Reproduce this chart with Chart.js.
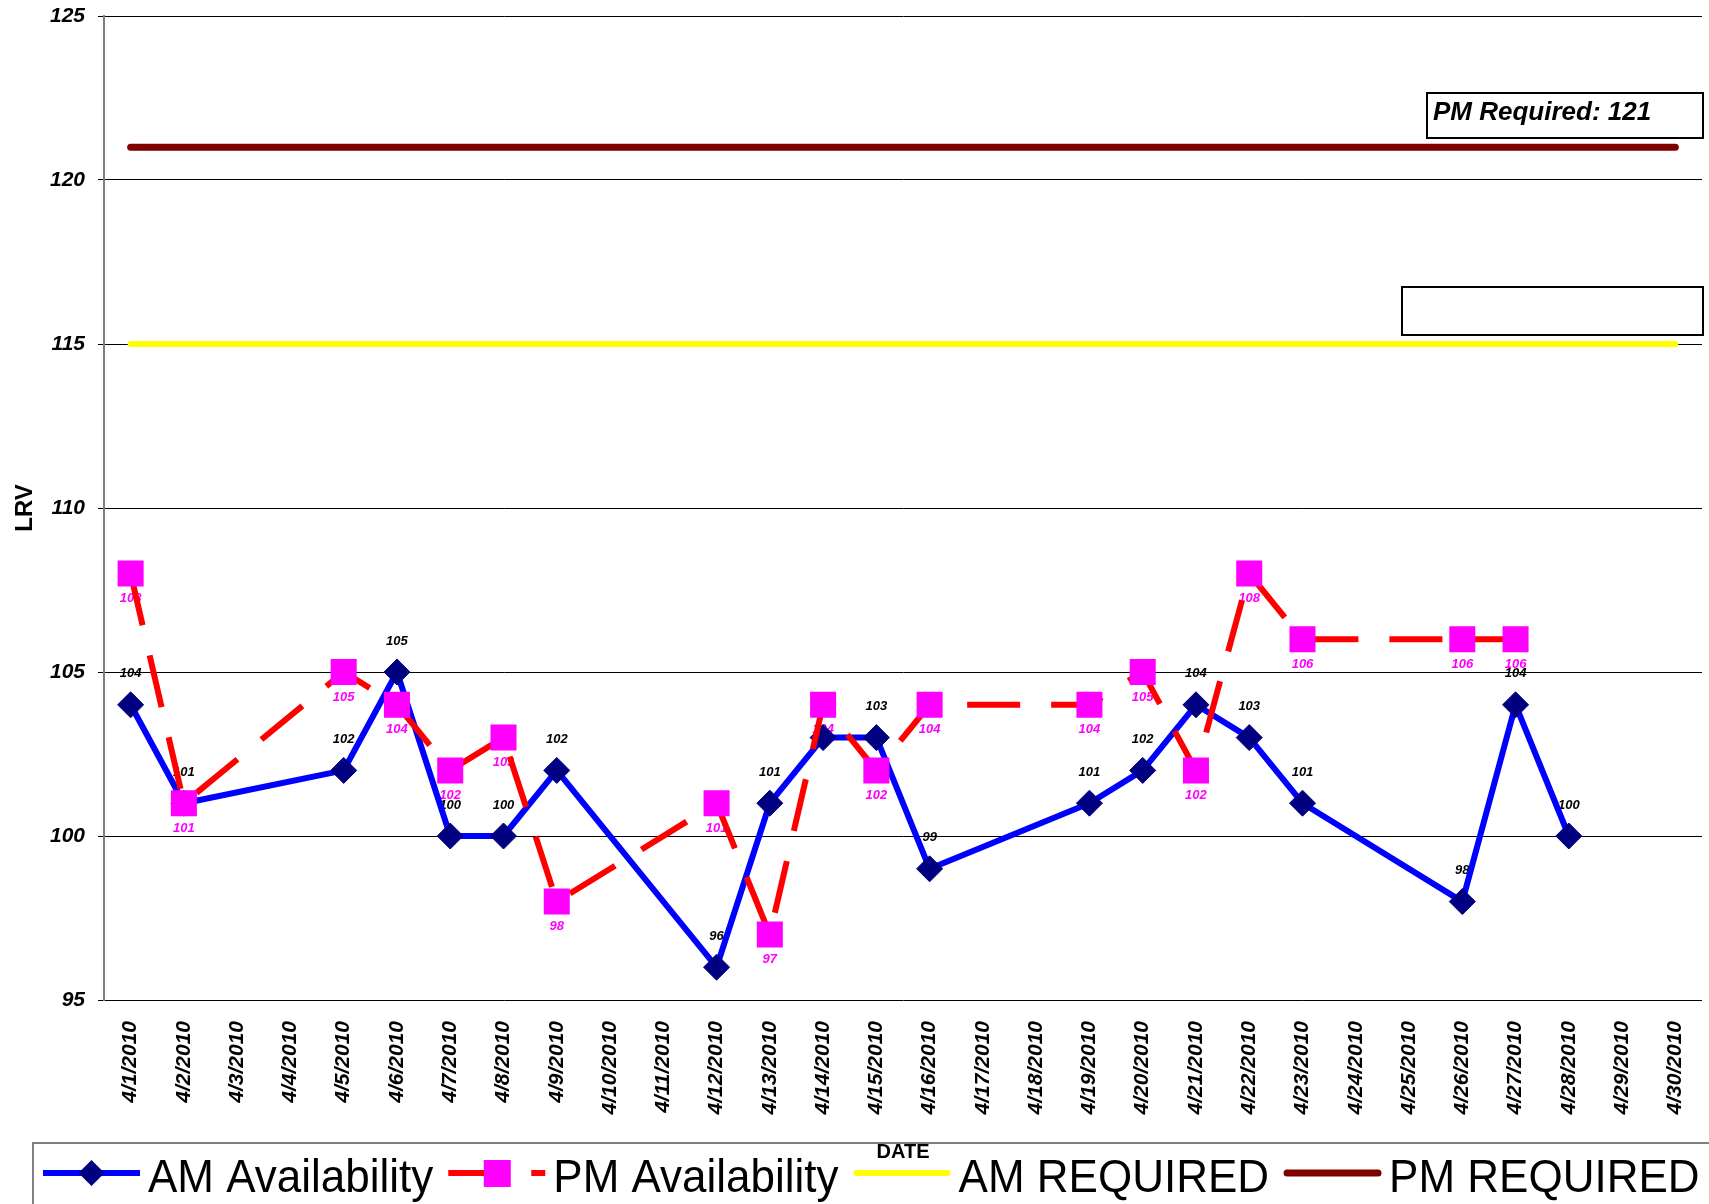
<!DOCTYPE html>
<html lang="en">
<head>
<meta charset="UTF-8">
<title>LRV</title>
<script src="https://cdn.jsdelivr.net/npm/chart.js"></script>
<style>
  html, body { margin: 0; padding: 0; background: #fff; overflow: hidden; }
  canvas { display: block; }
</style>
</head>
<body>
<canvas id="myChart" width="1709" height="1204"></canvas>
<script>
// data
var dates = ['4/1/2010', '4/2/2010', '4/3/2010', '4/4/2010', '4/5/2010', '4/6/2010', '4/7/2010', '4/8/2010',
  '4/9/2010', '4/10/2010', '4/11/2010', '4/12/2010', '4/13/2010', '4/14/2010', '4/15/2010', '4/16/2010',
  '4/17/2010', '4/18/2010', '4/19/2010', '4/20/2010', '4/21/2010', '4/22/2010', '4/23/2010', '4/24/2010',
  '4/25/2010', '4/26/2010', '4/27/2010', '4/28/2010', '4/29/2010', '4/30/2010'];
var amAvail = [104, 101, null, null, 102, 105, 100, 100, 102, null, null, 96, 101, 103, 103, 99,
  null, null, 101, 102, 104, 103, 101, null, null, 98, 104, 100, null, null];
var pmAvail = [108, 101, null, null, 105, 104, 102, 103, 98, null, null, 101, 97, 104, 102, 104,
  null, null, 104, 105, 102, 108, 106, null, null, 106, 106, null, null, null];
var amRequired = [115, 115, 115, 115, 115, 115, 115, 115, 115, 115, 115, 115, 115, 115, 115,
  115, 115, 115, 115, 115, 115, 115, 115, 115, 115, 115, 115, 115, 115, 115];
var pmRequired = [121, 121, 121, 121, 121, 121, 121, 121, 121, 121, 121, 121, 121, 121, 121,
  121, 121, 121, 121, 121, 121, 121, 121, 121, 121, 121, 121, 121, 121, 121];
var yMin = 95, yMax = 125, yStep = 5;
var seriesNames = ['AM Availability', 'PM Availability', 'AM REQUIRED', 'PM REQUIRED'];
var pmNote = 'PM Required: 121';

var FONT = '"Liberation Sans", Arial, sans-serif';

// value labels, drawn under the lines like the original
var pointLabels = {
  id: 'pointLabels',
  beforeDatasetsDraw: function (chart) {
    var ctx = chart.ctx;
    ctx.save();
    ctx.font = 'italic bold 13px ' + FONT;
    ctx.textAlign = 'center';
    ctx.textBaseline = 'middle';
    [[0, -31, '#000000'], [1, 25, '#FF00FF']].forEach(function (cfg) {
      var ds = chart.data.datasets[cfg[0]];
      ctx.fillStyle = cfg[2];
      chart.getDatasetMeta(cfg[0]).data.forEach(function (pt, j) {
        var v = ds.data[j];
        if (v == null) return;
        ctx.fillText(String(v), pt.x, pt.y + cfg[1]);
      });
    });
    ctx.restore();
  }
};

// text boxes + legend box at the bottom
var extras = {
  id: 'extras',
  afterDraw: function (chart) {
    var ctx = chart.ctx;
    var area = chart.chartArea;
    ctx.save();

    // note boxes at the right
    ctx.strokeStyle = '#000';
    ctx.lineWidth = 2;
    ctx.strokeRect(area.right - 275, area.top + 77, 276, 45);
    ctx.strokeRect(area.right - 300, area.top + 271, 301, 48);
    ctx.fillStyle = '#000';
    ctx.font = 'italic bold 26px ' + FONT;
    ctx.textAlign = 'left';
    ctx.textBaseline = 'alphabetic';
    ctx.fillText(pmNote, area.right - 269, area.top + 104);

    // legend
    var top = 1143;
    ctx.strokeStyle = '#808080';
    ctx.lineWidth = 2;
    ctx.strokeRect(33, top, 1709, 100);

    var ly = 1173, x = 43, sw = 97;
    ctx.font = '44px ' + FONT;
    var styles = [
      { color: '#0000FF', dash: [], cap: 'butt', marker: 'diamond' },
      { color: '#FF0000', dash: [40, 43], cap: 'butt', marker: 'square' },
      { color: '#FFFF00', dash: [], cap: 'round', marker: null },
      { color: '#800000', dash: [], cap: 'round', marker: null }
    ];
    for (var i = 0; i < seriesNames.length; i++) {
      var st = styles[i];
      ctx.beginPath();
      ctx.setLineDash(st.dash);
      ctx.lineCap = st.cap;
      ctx.lineWidth = i === 3 ? 7 : 6;
      ctx.strokeStyle = st.color;
      ctx.moveTo(x + (st.cap === 'round' ? 3 : 0), ly);
      ctx.lineTo(x + sw - (st.cap === 'round' ? 3 : 0), ly);
      ctx.stroke();
      ctx.setLineDash([]);
      var cx = x + sw / 2;
      if (st.marker === 'diamond') {
        ctx.fillStyle = '#000080';
        ctx.beginPath();
        ctx.moveTo(cx - 13, ly);
        ctx.lineTo(cx, ly - 13);
        ctx.lineTo(cx + 13, ly);
        ctx.lineTo(cx, ly + 13);
        ctx.closePath();
        ctx.fill();
      } else if (st.marker === 'square') {
        ctx.fillStyle = '#FF00FF';
        ctx.fillRect(cx - 13, ly - 13, 27, 27);
      }
      ctx.fillStyle = '#000';
      // text is a bit taller than plain 44px in the original
      ctx.save();
      ctx.translate(x + sw + 8, 1192);
      ctx.scale(1, 1.06);
      ctx.fillText(seriesNames[i], 0, 0);
      ctx.restore();
      x += sw + 8 + ctx.measureText(seriesNames[i]).width + 15;
    }
    ctx.restore();
  }
};

var ctx = document.querySelector('#myChart');

var myChart = new Chart(ctx, {
  type: 'line',
  data: {
    labels: dates,
    datasets: [
      {
        label: seriesNames[0],
        data: amAvail,
        borderColor: '#0000FF',
        borderWidth: 6,
        borderJoinStyle: 'round',
        pointStyle: 'rectRot',
        pointRadius: 13,
        pointBackgroundColor: '#000080',
        pointBorderColor: '#000080',
        pointBorderWidth: 1,
        spanGaps: true,
        tension: 0,
        order: 2
      },
      {
        label: seriesNames[1],
        data: pmAvail,
        borderColor: '#FF0000',
        borderWidth: 6,
        borderDash: [53, 31],
        pointStyle: 'rect',
        pointRadius: 18.4,
        pointBackgroundColor: '#FF00FF',
        pointBorderColor: '#FF00FF',
        pointBorderWidth: 0,
        spanGaps: true,
        tension: 0,
        order: 1
      },
      {
        label: seriesNames[2],
        data: amRequired,
        borderColor: '#FFFF00',
        borderWidth: 6,
        borderCapStyle: 'round',
        pointRadius: 0,
        tension: 0,
        order: 3
      },
      {
        label: seriesNames[3],
        data: pmRequired,
        borderColor: '#800000',
        borderWidth: 7,
        borderCapStyle: 'round',
        pointRadius: 0,
        tension: 0,
        order: 4
      }
    ]
  },
  options: {
    responsive: false,
    animation: false,
    layout: { autoPadding: false, padding: { top: 16, right: 7, left: 0, bottom: 0 } },
    plugins: {
      legend: { display: false },
      tooltip: { enabled: false }
    },
    scales: {
      x: {
        offset: true,
        grid: { display: false },
        border: { display: false },
        ticks: {
          autoSkip: false,
          minRotation: 90,
          maxRotation: 90,
          padding: 13,
          color: '#000',
          font: { family: FONT, size: 21, style: 'italic', weight: 'bold' }
        },
        title: {
          display: true,
          text: 'DATE',
          color: '#000',
          font: { family: FONT, size: 20, weight: 'bold' },
          padding: { top: 0, bottom: 40 }
        },
        afterFit: function (scale) {
          scale.height = 204;
          scale.paddingLeft = 0;
          scale.paddingRight = 0;
        }
      },
      y: {
        min: yMin,
        max: yMax,
        grid: { color: '#000', lineWidth: 1, tickLength: 6, tickColor: '#000' },
        border: { display: true, color: '#808080', width: 2 },
        ticks: {
          stepSize: yStep,
          padding: 13,
          color: '#000',
          font: { family: FONT, size: 21, style: 'italic', weight: 'bold' }
        },
        title: {
          display: true,
          text: 'LRV',
          color: '#000',
          font: { family: FONT, size: 24, weight: 'bold' },
          padding: { top: 11, bottom: 0 }
        },
        afterFit: function (scale) {
          scale.width = 104;
          scale.paddingTop = 0;
          scale.paddingBottom = 0;
        }
      }
    }
  },
  plugins: [pointLabels, extras]
});
</script>
</body>
</html>
